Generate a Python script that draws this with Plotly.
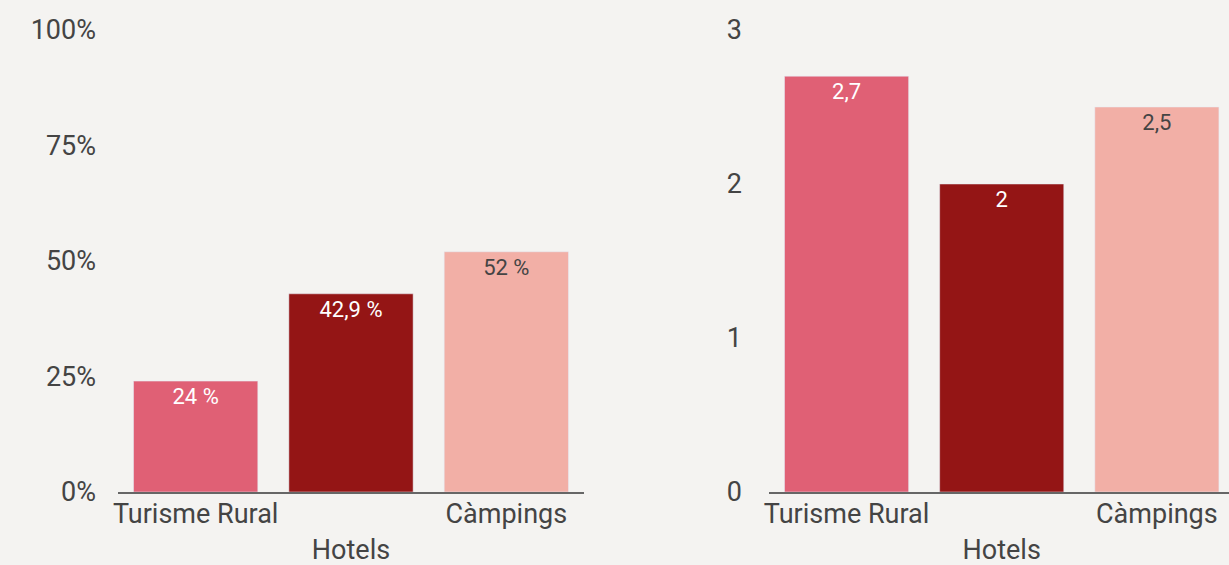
import plotly.graph_objects as go
from plotly.subplots import make_subplots

categories = ["Turisme Rural", "Hotels", "Càmpings"]
tick_labels = ["Turisme Rural", "<br>Hotels", "Càmpings"]
pct_values = [24, 42.9, 52]
num_values = [2.7, 2, 2.5]
bar_colors = ["#E06075", "#941515", "#F2AFA6"]
text_colors = ["#FFFFFF", "#FFFFFF", "#444444"]
pct_ticks = [0, 25, 50, 75, 100]
num_ticks = [0, 1, 2, 3]

def fmt(v):
    return f"{v:g}".replace(".", ",")

W, H = 1229, 565
fig = make_subplots(rows=1, cols=2)

fig.add_trace(go.Bar(
    x=categories, y=pct_values, marker_color=bar_colors,
    text=[fmt(v) + " %" for v in pct_values],
    textposition="inside", insidetextanchor="end",
    textfont=dict(size=22, color=text_colors, family="Roboto"),
    width=0.8, showlegend=False, hoverinfo="skip"), row=1, col=1)

fig.add_trace(go.Bar(
    x=categories, y=num_values, marker_color=bar_colors,
    text=[fmt(v) for v in num_values],
    textposition="inside", insidetextanchor="end",
    textfont=dict(size=22, color=text_colors, family="Roboto"),
    width=0.8, showlegend=False, hoverinfo="skip"), row=1, col=2)

axis_font = dict(family="Roboto", size=27, color="#444444")

fig.update_layout(
    width=W, height=H,
    paper_bgcolor="#F4F3F1", plot_bgcolor="#F4F3F1",
    margin=dict(l=0, r=0, t=30, b=73),
    separators=", ",
    font=dict(family="Roboto"),
    xaxis=dict(domain=[118 / W, 584 / W], range=[-0.5, 2.5],
               tickvals=categories, ticktext=tick_labels, automargin=False,
               showgrid=False, showline=True, linecolor="#666666", linewidth=2,
               ticks="", tickfont=axis_font, zeroline=False, ticklabelstandoff=-3),
    xaxis2=dict(domain=[769 / W, 1.0], range=[-0.5, 2.465],
                tickvals=categories, ticktext=tick_labels, automargin=False,
                showgrid=False, showline=True, linecolor="#666666", linewidth=2,
                ticks="", tickfont=axis_font, zeroline=False, ticklabelstandoff=-3),
    yaxis=dict(range=[0, 100], tickvals=pct_ticks, automargin=False,
               ticktext=[f"{t}%" for t in pct_ticks],
               showgrid=False, zeroline=False, showline=False,
               tickfont=axis_font, ticklabelstandoff=21),
    yaxis2=dict(range=[0, 3], tickvals=num_ticks, automargin=False,
                showgrid=False, zeroline=False, showline=False,
                tickfont=axis_font, ticklabelstandoff=26),
)

fig.write_html("out.html", config={"displayModeBar": False},
               post_script="document.body.style.margin='0';document.body.style.background='#F4F3F1';")
